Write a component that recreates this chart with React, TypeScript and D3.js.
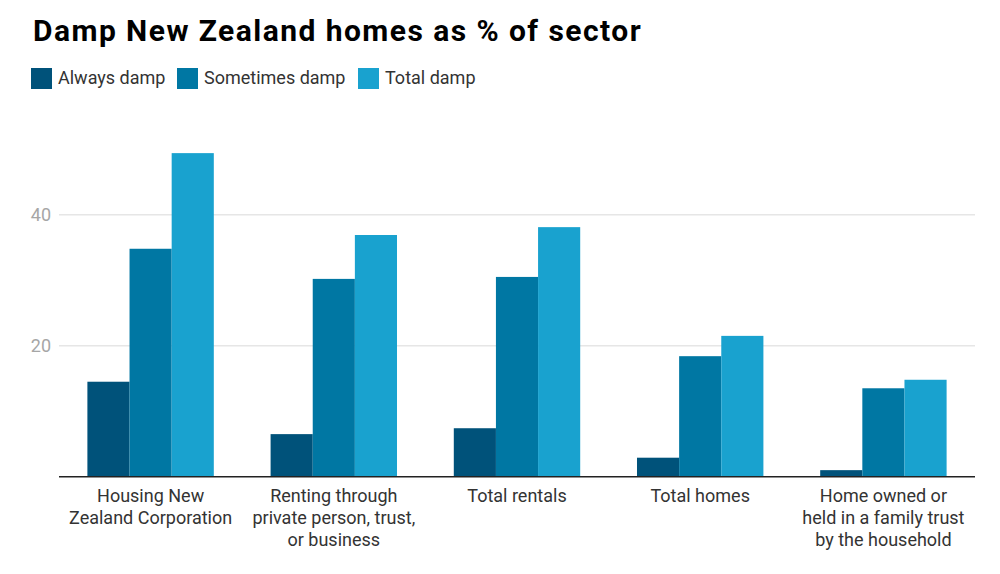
import React from "react";
import * as d3 from "d3";

const categories = [
  ["Housing New", "Zealand Corporation"],
  ["Renting through", "private person, trust,", "or business"],
  ["Total rentals"],
  ["Total homes"],
  ["Home owned or", "held in a family trust", "by the household"],
];
const seriesNames = ["Always damp", "Sometimes damp", "Total damp"];
const alwaysDamp = [14.5, 6.5, 7.4, 2.9, 1.0];
const sometimesDamp = [34.8, 30.2, 30.5, 18.4, 13.5];
const totalDamp = [49.4, 36.9, 38.1, 21.5, 14.8];
const yTicks = [20, 40];
const colors = ["#00527a", "#0077a3", "#19a2cf"];

const W = 1000;
const H = 574;
const font = "Roboto, 'Noto Sans', sans-serif";

export default function App() {
  const series = [alwaysDamp, sometimesDamp, totalDamp];
  const x0 = d3
    .scaleBand<number>()
    .domain(categories.map((_, i) => i))
    .range([59, 975])
    .paddingInner(0.31)
    .paddingOuter(0.155);
  const x1 = d3
    .scaleBand<number>()
    .domain(seriesNames.map((_, i) => i))
    .range([0, x0.bandwidth()]);
  const y = d3.scaleLinear().domain([0, 40]).range([476.7, 214.7]);

  const legendX = [31, 177, 358];

  return (
    <svg width={W} height={H} style={{ position: "absolute", left: 0, top: 0 }} fontFamily={font}>
      <rect width={W} height={H} fill="#fff" />
      <text x={33} y={41} fontSize={30} fontWeight="bold" fill="#000" letterSpacing={1.45}>
        Damp New Zealand homes as % of sector
      </text>

      {seriesNames.map((name, i) => (
        <g key={name} transform={`translate(${legendX[i]},68)`}>
          <rect width={21} height={21} fill={colors[i]} />
          <text x={27} y={16} fontSize={18} fill="#333">
            {name}
          </text>
        </g>
      ))}

      {yTicks.map((t) => (
        <g key={t}>
          <line x1={59} x2={975} y1={y(t)} y2={y(t)} stroke="#e6e6e6" strokeWidth={1.5} />
          <text x={51} y={y(t)} dy="0.35em" textAnchor="end" fontSize={18} fill="#a6a6a6">
            {t}
          </text>
        </g>
      ))}

      {categories.map((cat, ci) => (
        <g key={ci} transform={`translate(${x0(ci)},0)`}>
          {series.map((vals, si) => (
            <rect
              key={si}
              x={x1(si)}
              y={y(vals[ci])}
              width={x1.bandwidth()}
              height={y(0) - y(vals[ci])}
              fill={colors[si]}
            />
          ))}
          {cat.map((line, li) => (
            <text
              key={li}
              x={x0.bandwidth() / 2}
              y={502 + li * 22}
              textAnchor="middle"
              fontSize={18}
              fill="#333"
            >
              {line}
            </text>
          ))}
        </g>
      ))}

      <line x1={59} x2={975} y1={y(0)} y2={y(0)} stroke="#222" strokeWidth={1.5} />
    </svg>
  );
}
